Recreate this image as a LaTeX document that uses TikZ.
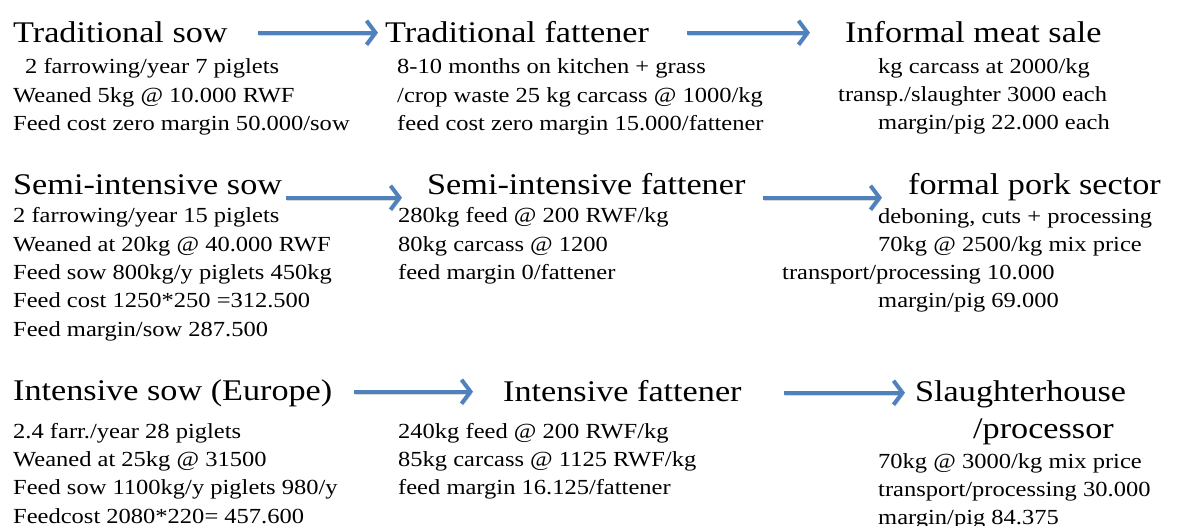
\documentclass[tikz,border=0pt]{standalone}
\usepackage{fontspec}
\setmainfont[FakeStretch=1.14]{Liberation Serif}
\usepackage{xcolor}
\usepackage{tikz}
\definecolor{flowblue}{RGB}{79,129,189}
\tikzstyle{stage} = [inner sep=0pt, anchor=base west, align=left,
    font=\fontsize{30}{37}\selectfont]
\tikzstyle{info} = [inner sep=0pt, anchor=base west, align=left,
    font=\fontsize{21.5}{28.3}\selectfont]
\tikzstyle{flow} = [-{Straight Barb[length=9pt,width=24pt]}, line width=4pt, flowblue,
    preaction={draw=black!35, opacity=.45, transform canvas={xshift=1pt,yshift=-2.5pt}}]
\usetikzlibrary{calc}
\usetikzlibrary{arrows.meta}
\usetikzlibrary{positioning}

\begin{document}
\begin{tikzpicture}[x=1pt,y=-1pt]
    \useasboundingbox (0,0) rectangle (1177,526);

    % traditional chain (info nodes sit on the baseline of their last line)
    \node[stage] (tsow) at (13,43) {Traditional sow};
    \node[stage] (tfat) at (385,43) {Traditional fattener};
    \node[stage] (tsale) at (845,43) {Informal meat sale};
    \node[info] (tsowinfo) at (13,130.6) {\hspace*{12pt}2 farrowing/year 7 piglets\\Weaned 5kg @ 10.000 RWF\\Feed cost zero margin 50.000/sow};
    \node[info] (tfatinfo) at (397,130.6) {8-10 months on kitchen + grass\\/crop waste 25 kg carcass @ 1000/kg\\feed cost zero margin 15.000/fattener};
    \node[info] (tsaleinfo) at (838,130) {\hspace*{40pt}kg carcass at 2000/kg\\transp./slaughter 3000 each\\\hspace*{40pt}margin/pig 22.000 each};

    \draw[flow, shorten <=30pt, shorten >=7pt] ([yshift=8pt]tsow.mid east) -- ([yshift=8pt]tsow.mid east -| tfat.west);
    \draw[flow, shorten <=38pt, shorten >=35pt] ([yshift=8pt]tfat.mid east) -- ([yshift=8pt]tfat.mid east -| tsale.west);

    % semi-intensive chain
    \node[stage] (ssow) at (13,195) {Semi-intensive sow};
    \node[stage] (sfat) at (427,195) {Semi-intensive fattener};
    \node[stage] (spork) at (908,195) {formal pork sector};
    \node[info] (ssowinfo) at (13,336) {2 farrowing/year 15 piglets\\Weaned at 20kg @ 40.000 RWF\\Feed sow 800kg/y piglets 450kg\\Feed cost 1250*250 =312.500\\Feed margin/sow 287.500};
    \node[info] (sfatinfo) at (398,279.6) {280kg feed @ 200 RWF/kg\\80kg carcass @ 1200\\feed margin 0/fattener};
    \node[info] (sporkinfo) at (782,308) {\hspace*{96pt}deboning, cuts + processing\\\hspace*{96pt}70kg @ 2500/kg mix price\\transport/processing 10.000\\\hspace*{96pt}margin/pig 69.000};

    \draw[flow, shorten <=4pt, shorten >=25pt] ([yshift=-5pt]ssow.mid east) -- ([yshift=-5pt]ssow.mid east -| sfat.west);
    \draw[flow, shorten <=17pt, shorten >=26pt] ([yshift=-5pt]sfat.mid east) -- ([yshift=-5pt]sfat.mid east -| spork.west);

    % intensive chain
    \node[stage] (isow) at (13,400) {Intensive sow (Europe)};
    \node[stage] (ifat) at (503,401) {Intensive fattener};
    \node[stage] (islaughter) at (915,438) {Slaughterhouse\\\hspace*{58pt}/processor};
    \node[info] (isowinfo) at (13,523) {2.4 farr./year 28 piglets\\Weaned at 25kg @ 31500\\Feed sow 1100kg/y piglets 980/y\\Feedcost 2080*220= 457.600};
    \node[info] (ifatinfo) at (398,494.6) {240kg feed @ 200 RWF/kg\\85kg carcass @ 1125 RWF/kg\\feed margin 16.125/fattener};
    \node[info] (islaughterinfo) at (878,524.6) {70kg @ 3000/kg mix price\\transport/processing 30.000\\margin/pig 84.375};

    \draw[flow, shorten <=21pt, shorten >=30pt] ([yshift=6pt]isow.mid east) -- ([yshift=6pt]isow.mid east -| ifat.west);
    \draw[flow, shorten <=42pt, shorten >=10pt] ([yshift=6pt]ifat.mid east) -- ([yshift=6pt]ifat.mid east -| islaughter.west);
\end{tikzpicture}
\end{document}
